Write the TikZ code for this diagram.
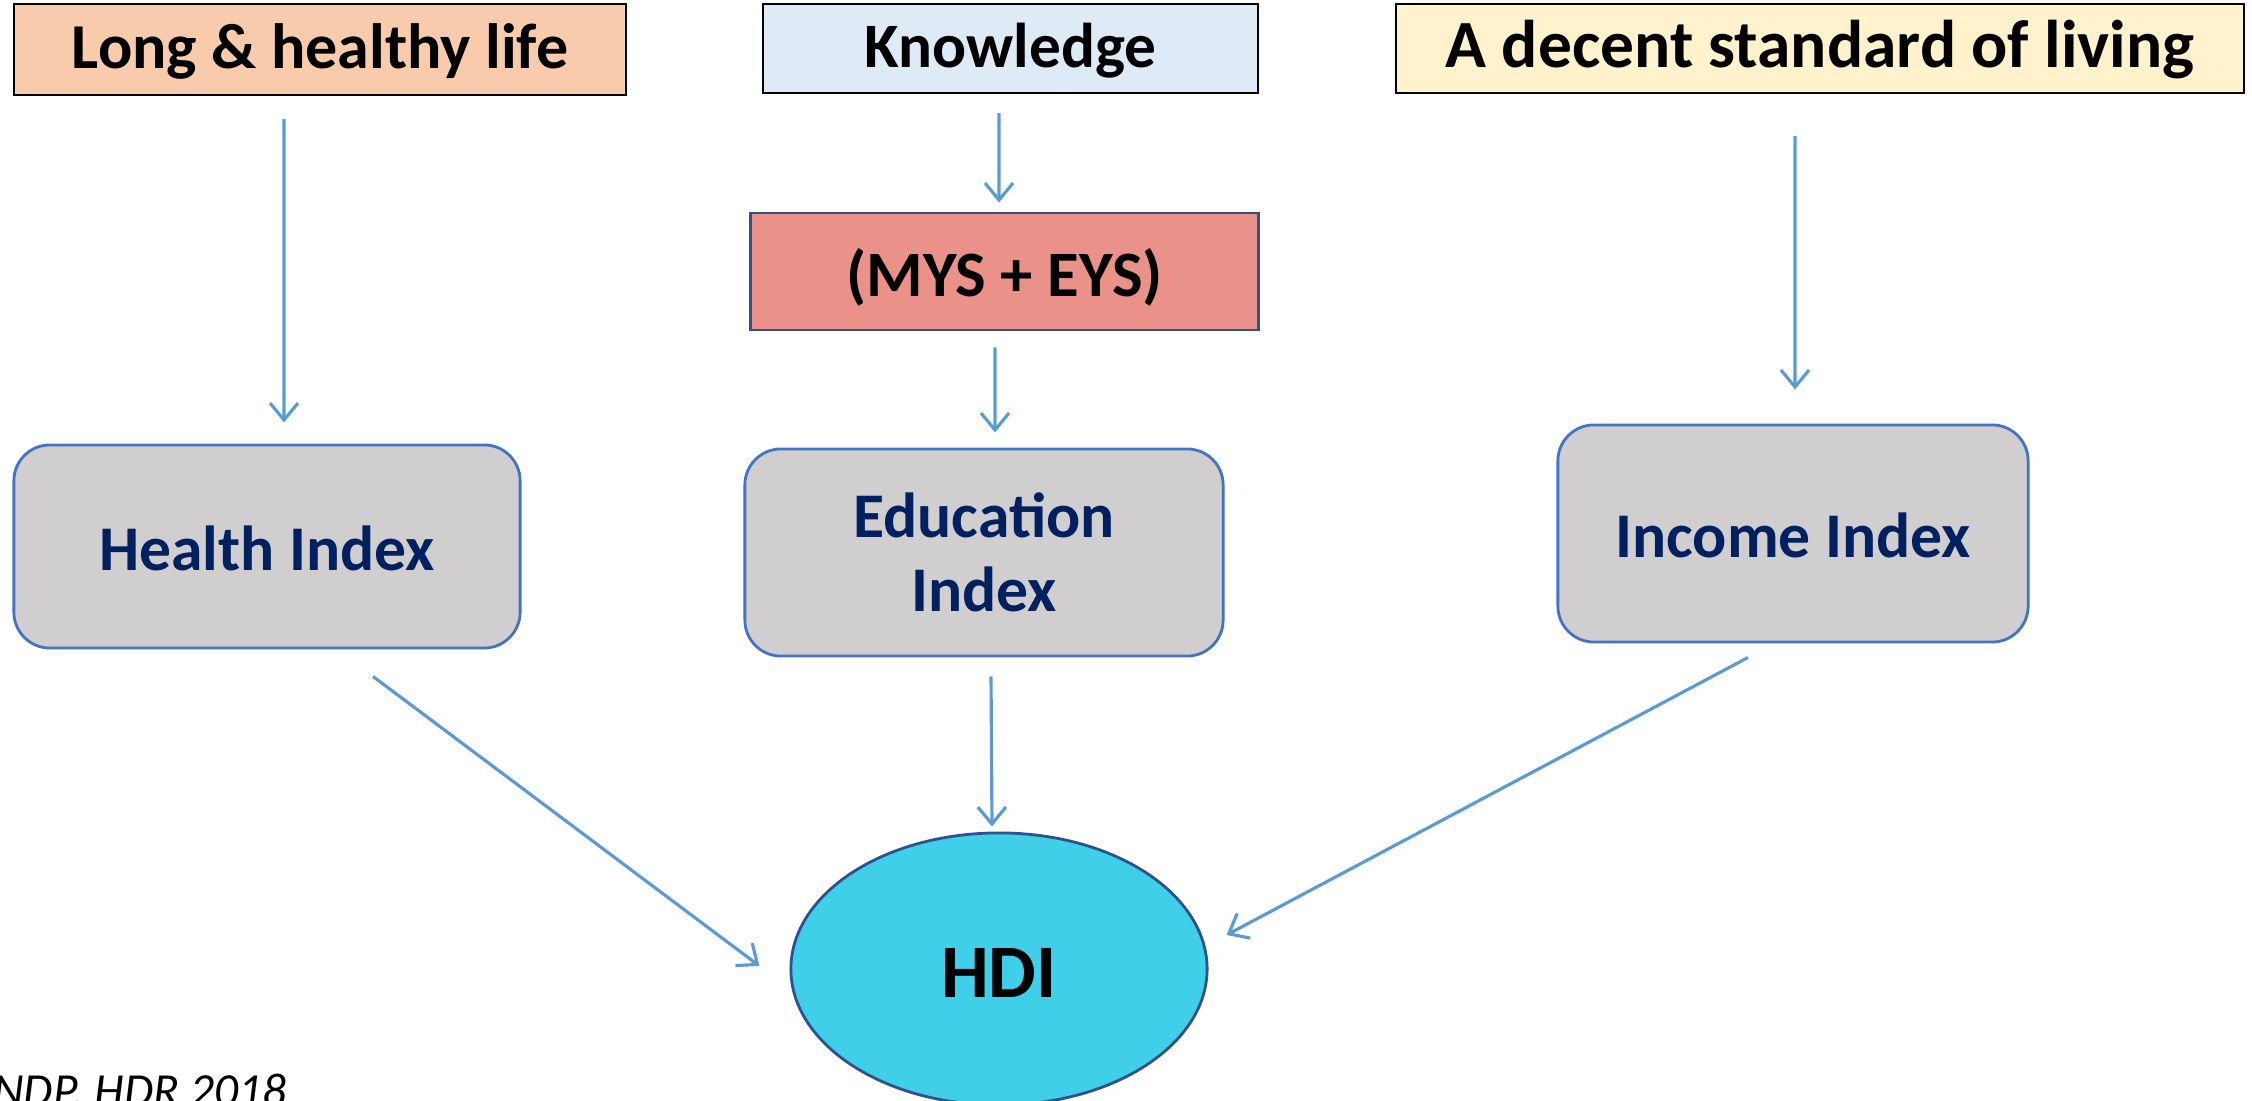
\documentclass[tikz,border=0pt]{standalone}
\usepackage{fontspec}
\setmainfont{Carlito}
\usetikzlibrary{shapes.geometric,arrows.meta}

\definecolor{lifefill}{HTML}{F8CBAD}
\definecolor{knowfill}{HTML}{DEEBF7}
\definecolor{livingfill}{HTML}{FFF2CC}
\definecolor{mysfill}{HTML}{EA9189}
\definecolor{mysline}{HTML}{2F528F}
\definecolor{idxfill}{HTML}{D0CECE}
\definecolor{idxline}{HTML}{4472C4}
\definecolor{idxtext}{HTML}{002060}
\definecolor{hdifill}{HTML}{40CFE8}
\definecolor{arrblue}{HTML}{5B9BD5}

\begin{document}
\begin{tikzpicture}[x=0.01cm,y=-0.01cm]
      \tikzstyle{topbox} = [draw=black, line width=0.6pt, inner sep=0pt,
        text height=16pt, text depth=5pt]
      \tikzstyle{indexbox} = [draw=idxline, fill=idxfill, line width=0.8pt,
        rounded corners=0.36cm, inner sep=0pt, align=center, text=idxtext,
        text height=17.5pt, text depth=4pt,
        font=\bfseries\fontsize{18.1}{21}\selectfont]
      \tikzstyle{flow} = [draw=arrblue, line width=0.9pt,
        -{Straight Barb[length=0.17cm,width=0.28cm]}]

      \clip (0,0) rectangle (2252,1101);

      % the three dimensions
      \node[topbox, fill=lifefill, minimum width=6.12cm, minimum height=0.91cm,
        font=\bfseries\fontsize{18.2}{22}\selectfont]
        (life) at (320,49.5) {Long \& healthy life};
      \node[topbox, fill=knowfill, minimum width=4.95cm, minimum height=0.89cm,
        font=\bfseries\fontsize{18}{22}\selectfont]
        (know) at (1010.5,48.5) {Knowledge};
      \node[topbox, fill=livingfill, minimum width=8.48cm, minimum height=0.89cm,
        font=\bfseries\fontsize{19.2}{22}\selectfont]
        (living) at (1820,48.5) {A decent standard of living};

      \node[draw=mysline, fill=mysfill, line width=0.8pt, inner sep=0pt,
        minimum width=5.07cm, minimum height=1.17cm,
        text height=18.5pt, text depth=4.5pt,
        font=\bfseries\fontsize{18.4}{22}\selectfont]
        (mys) at (1004.5,271.5) {(MYS + EYS)};

      % the indices
      \node[indexbox, minimum width=5.06cm, minimum height=2.03cm]
        (health) at (267,546.5) {Health Index};
      \node[indexbox, text height=37.5pt, minimum width=4.78cm, minimum height=2.07cm]
        (educ) at (984,552.5) {Education\\Index};
      \node[indexbox, minimum width=4.70cm, minimum height=2.17cm]
        (income) at (1793,533.5) {Income Index};

      \node[ellipse, draw=mysline, fill=hdifill, line width=0.8pt, inner sep=0pt,
        minimum width=4.16cm, minimum height=2.72cm,
        text height=20pt, text depth=4pt,
        font=\bfseries\fontsize{21.5}{26}\selectfont]
        (hdi) at (999,969) {HDI};

      \node[anchor=base east, inner sep=0pt, font=\itshape\fontsize{13.5}{16}\selectfont]
        (source) at (287,1106) {UNDP, HDR 2018};

      \path
      ([shift={(-0.36cm,-0.23cm)}]life.south) edge[flow] ([shift={(0.17cm,0.21cm)}]health.north)
      ([shift={(-0.115cm,-0.19cm)}]know.south) edge[flow] ([shift={(-0.055cm,0.09cm)}]mys.north)
      ([shift={(-0.095cm,-0.16cm)}]mys.south) edge[flow] ([shift={(0.11cm,0.15cm)}]educ.north)
      ([shift={(-0.25cm,-0.42cm)}]living.south) edge[flow] ([shift={(0.02cm,0.34cm)}]income.north);
      \path
      ([shift={(1.06cm,-0.27cm)}]health.south) edge[flow] ([shift={(-0.30cm,0.03cm)}]hdi.west)
      ([shift={(0.07cm,-0.19cm)}]educ.south) edge[flow] ([shift={(-0.07cm,0.05cm)}]hdi.north)
      ([shift={(-0.45cm,-0.14cm)}]income.south) edge[flow] ([shift={(0.18cm,0.34cm)}]hdi.east);
\end{tikzpicture}
\end{document}
